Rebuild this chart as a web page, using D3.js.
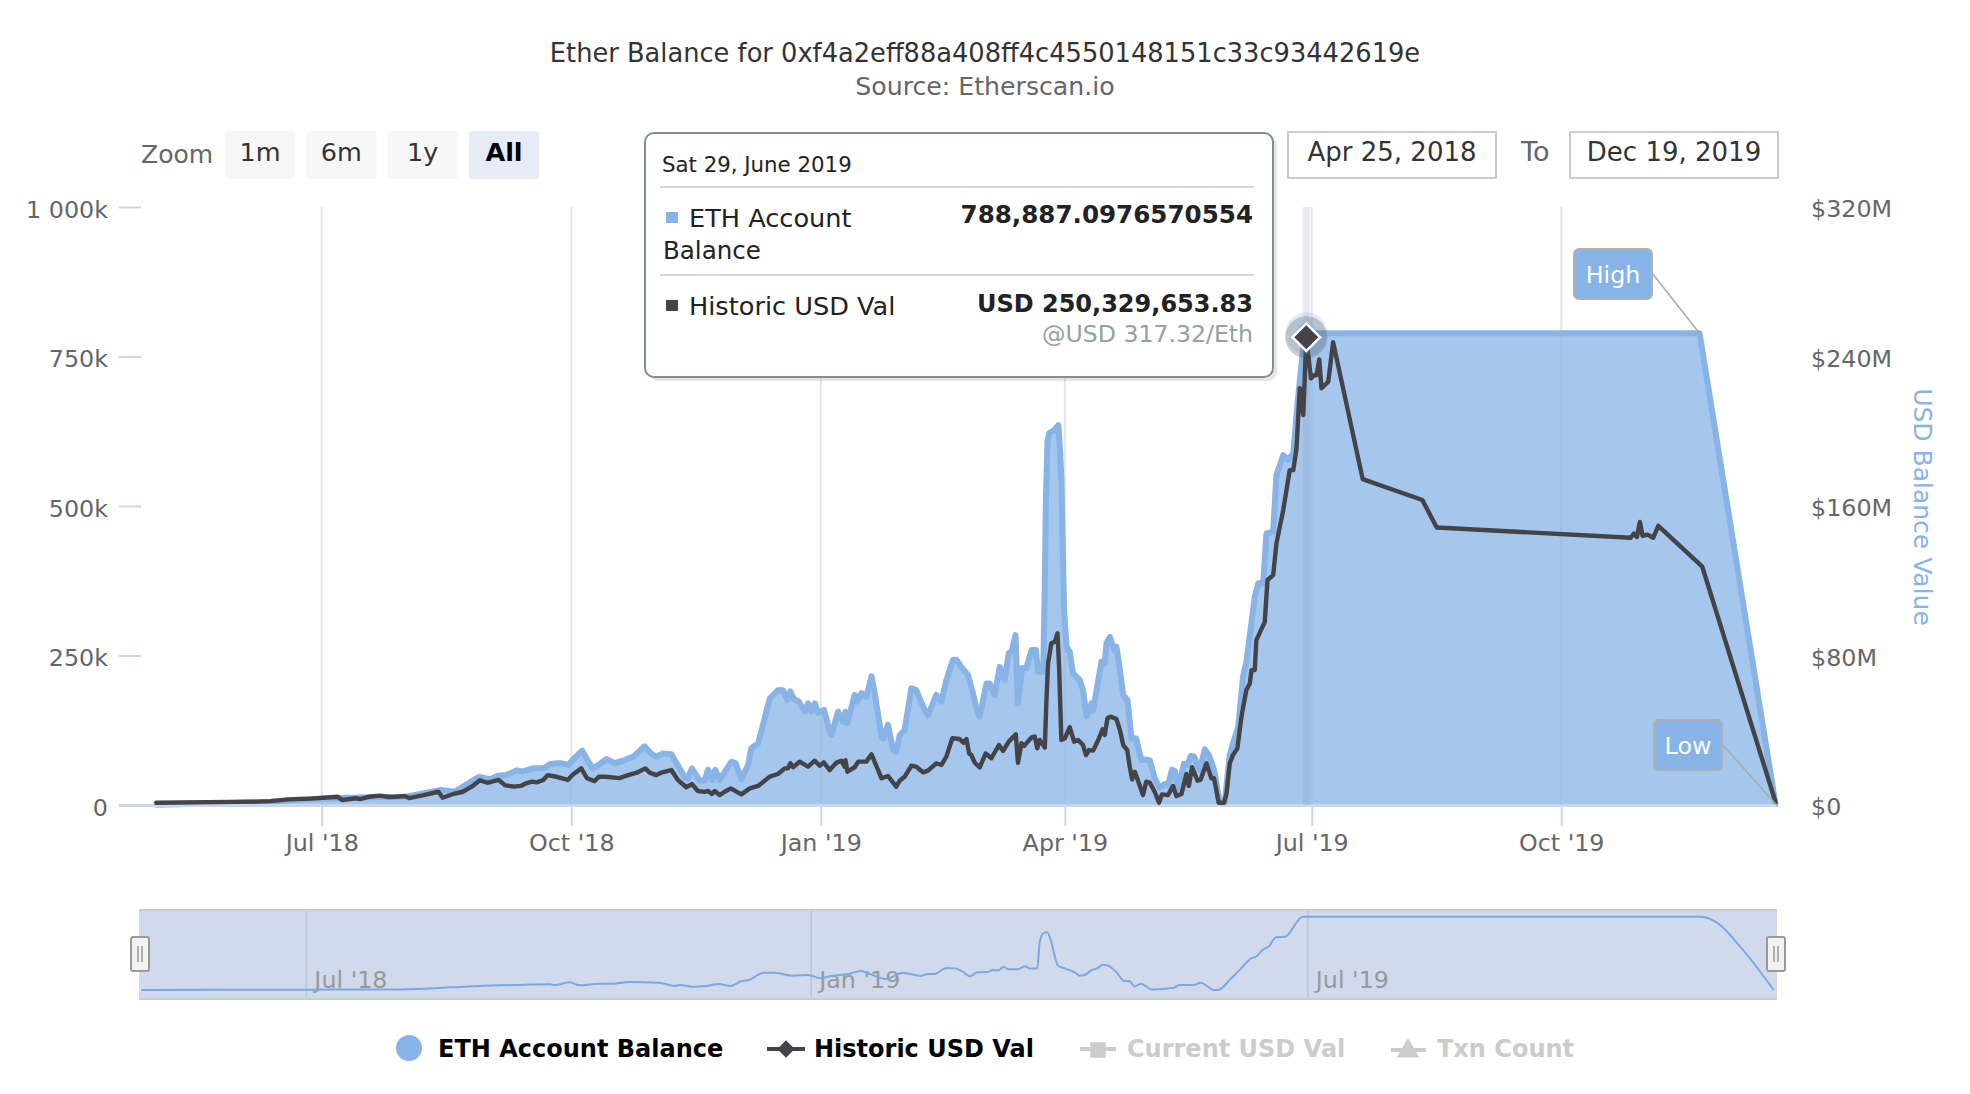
<!DOCTYPE html>
<html>
<head>
<meta charset="utf-8">
<title>Ether Balance</title>
<script src="https://d3js.org/d3.v7.min.js"></script>
<style>
  html, body { margin: 0; padding: 0; background: #fff; }
  text { font-family: "DejaVu Sans", sans-serif; }
</style>
</head>
<body>
<div id="chart"></div>
<script>
// day numbers are days after Apr 25 2018
var eth_days = [6,48,55,68,84,98,111,116,122,125,129,132,135,139,141,144.5,149,151,154,155,158,160,163,165,167,169,172,175,178,182,186,188.5,190.3,192.8,195.9,200.8,202,203.5,206.3,208.2,209.4,210.9,212.1,213.7,218,219.6,221.7,224.2,225.4,227.9,232.2,235.2,237.1,238.7,239.8,241.1,242.9,245.1,246.3,247.5,248.8,250,252.2,254.3,254.9,257.4,259.2,260.1,260.8,263.5,264.5,266,267.8,269.7,270.9,273.4,274,275.8,277.7,278.8,280.1,281.9,284.4,286.2,289.3,290.5,293.6,295.5,297.3,299.8,301,302.8,305.3,307.1,308.4,309.6,312.1,313.3,315.1,317,318.8,320.3,321.3,322.8,323.7,325.2,326.8,328.7,330.3,331.1,333,333.5,334,334.6,335.3,337.1,338.6,339.2,339.7,340.7,341.6,342.8,344,346.5,347.7,349,350.8,351.4,354.5,355.7,356.3,357.6,359.2,360,361.3,362.5,364.1,365.6,367.3,369.2,370.4,372.3,374.1,376,377.8,379,380.5,381.5,382.7,384.9,386.2,387.4,388.6,390.7,392.6,394,396,398.1,399.9,401.8,403,404.9,406.7,408,411,412.3,414.1,415.3,417.8,419,421.5,423.3,425.2,427,428.8,429.5,430,575,603];
var eth_values = [0.5,5,8,11,13,14,25,22,39,47,43,49,50,58,56,61,62,68,70,70,67,78,91,75,61,67,77,70,74,81,98,86,81,86,85,47,45,61,41,41,59,42,59,42,72,70,43,67,95,103,178,192,192,176,190,177,173,156,170,156,170,154,159,123,117,156,139,156,137,184,173,187,181,215,187,114,111,134,92,89,117,125,195,192,159,150,184,173,209,243,243,231,217,187,162,148,203,203,184,231,209,254,256,284,170,229,229,259,259,223,223,343,510,610,622,627,635,594,548,326,265,256,220,209,192,148,170,159,240,237,270,281,259,265,226,184,175,111,111,75,76,75,45,29,35,33,59,57,28,69,67,82,81,59,93,84,59,4,4,84,103,131,215,242,348,371,371,454,457,552,585,577,588,683,761,786,788.887,788.887,1.5];

var usd_days = [6,43.2,48.2,54.8,63,72.9,74.5,79.5,81.1,84.4,88.5,91.8,94.3,97.6,99.2,104.2,110,111.6,115.7,119,122.3,125.3,128.1,132.2,134.7,138,140.4,142,144.5,146.2,148.7,150.3,153.6,157.7,159.4,162.7,164.8,167.6,169.2,171.7,176.7,180,183.2,186.3,187.9,190.3,192.2,195.9,198.3,201.4,203.5,205.7,208.2,209.4,210.9,211.9,213.7,215.6,217.8,221.7,224.8,227.9,232.2,235.2,237.7,238.9,239.8,240.8,243.2,246.3,248.8,250.6,252.1,254.3,256.8,258.6,259.8,260.1,260.8,263.5,264.8,267.8,269.7,273.4,275.8,278.8,280.1,281.9,284.4,286.2,288.7,290.5,293.6,295.5,297.3,299.5,302.2,303.7,304.7,305.7,306.5,307.8,309.6,311.8,313.9,316.7,318.2,320.3,322.9,323.7,325,326,326.8,328.7,329.9,330.8,331.7,333.6,334.2,334.8,336,337.3,338.3,338.9,339.7,341,342.8,344.4,345.9,347.7,348.8,349.9,351.4,353.3,354.9,355.7,356.7,357.8,360,361.3,362.5,364,364.9,365.8,366.8,369.8,371,372.3,374.1,375.7,376.8,379,380.9,382.1,384,385.8,386.7,387.9,389.9,391,393.2,395,396,397.7,399.7,400.6,401.8,403,404.6,406.1,407.9,409.2,409.8,411,411.6,414.7,415.7,417.8,419,421.5,423.9,425.2,426.4,427.6,428.9,430,431.7,432.9,433.8,434.8,435.6,438.1,439.9,450.8,472.8,478.1,549.6,550.8,551.9,553,554,555.8,557.9,559.8,576,603];
var usd_values = [1.2,1.8,2.1,3,3.4,4.4,2.7,3.6,3.2,4.4,5,4.3,4.4,4.8,3.7,5.2,7.1,3.9,6,7.1,9.8,13.2,11.9,13.4,10.5,9.8,10.2,11.4,12.5,12.1,13.4,16,15.1,13.4,16,19.6,14.3,12.8,15.1,15.1,14.4,16,17.3,19.6,17.3,16,17.3,18.7,13.4,9.5,11.2,7.5,7,7.5,5.9,7.5,5.3,7.1,8.9,5.7,8.9,10.2,15.2,16.6,19.6,19.6,22.3,20.2,23.2,20.5,23.7,21,22.8,18.7,22.7,23.7,20.5,24,17.8,20.2,23.2,23.2,27.1,14.3,15.5,9.8,13,15.1,21,20.5,17.5,18.4,22.3,21.4,25.9,35.7,35.3,33.3,35.3,27.6,26.7,22.6,20.1,27.6,25,32.1,28.9,33.9,37.8,22.6,33,31.6,33,36.2,36.6,30.3,34.8,30.7,56.2,75.8,86.5,87.4,91.9,72.2,34.8,35.7,41.6,33.9,34.8,32.1,26.7,29.4,29.1,34.8,40.5,37.5,46.4,47.3,46,40.1,32.1,29.4,20.5,13.7,17.8,5.3,12.5,12,7.1,1.2,5.7,5.3,10.2,4.8,5.9,16.6,10.2,20.2,13,13.4,22.3,14.3,14.3,1.2,1.2,6.2,22.3,26.8,30.3,47.3,61.5,65.1,72.2,72.2,88.2,98,120.4,123,140,157.8,179.2,179.2,190.8,223,208.7,250.33,228.3,230,230,238.4,223,226.5,247.7,174.4,163.2,148.5,143,145.3,143.4,151.5,144,144.7,143,149.4,127.5,1.6];

var nav_days = [6.8,67,101.6,113.8,126,137.6,146.7,155.7,157.5,163,166.6,172,179.3,184.7,195.6,201,203.2,207.4,212.8,217.4,221.4,225.5,228.3,233.7,237.3,244.6,250,254.5,258.2,264.5,269,272.7,278.1,284.5,290.8,293.5,295.7,300.4,303.5,306.2,308.9,311.6,315.3,317.1,319.3,321.1,322.9,326.2,328.9,330.7,333.4,334.3,335.6,337,338.1,341,343.4,347,348.8,350.6,353.3,355.2,357.3,359.2,362.4,365.1,367,368.8,371.1,375.1,383.3,385.1,390.5,392.9,397.8,399.2,404.1,407.7,411.4,413.2,415.9,417.7,420.4,423.7,430.2,575.4,581.5,589.6,601.8];
var nav_values = [7,11,14,25,46,57,64,68,60,89,57,71,75,93,86,50,61,43,50,71,50,100,114,192,192,160,167,132,157,178,210,174,125,192,157,178,178,242,238,203,153,196,199,221,217,256,228,228,260,238,238,523,612,622,558,263,238,196,160,167,221,238,278,267,192,103,103,46,75,14,32,61,61,86,7,7,132,238,345,363,445,469,569,576,789,789,718,469,7];

var left_ticks = [0, 250, 500, 750, 1000];
var left_labels = ['0', '250k', '500k', '750k', '1 000k'];
var right_ticks = [0, 80, 160, 240, 320];
var x_ticks = ['2018-07-01', '2018-10-01', '2019-01-01', '2019-04-01', '2019-07-01', '2019-10-01'];
var nav_ticks = ['2018-07-01', '2019-01-01', '2019-07-01'];

var zoom_buttons = ['1m', '6m', '1y', 'All'];
var legend_names = ['ETH Account Balance', 'Historic USD Val', 'Current USD Val', 'Txn Count'];

var blue = '#87b3e7';
var dark = '#434348';
var axis_color = '#ccd6eb';
var label_color = '#666666';

var chart_width = 1970;
var chart_height = 1094;
var font_size = 23.8;

var svg = d3.select('#chart')
  .append('svg')
  .attr('width', chart_width)
  .attr('height', chart_height);

var start_date = new Date(Date.UTC(2018, 3, 25));
function day_to_date(d) {
  return new Date(start_date.getTime() + d * 86400000);
}

// scales
var x_scale = d3.scaleUtc()
  .domain([start_date, day_to_date(603)])
  .range([140, 1775.5]);
var y_eth = d3.scaleLinear().domain([0, 1000]).range([805, 207]);
var y_usd = d3.scaleLinear().domain([0, 320]).range([805, 207]);

var x_nav = d3.scaleUtc()
  .domain([day_to_date(6), day_to_date(603)])
  .range([139, 1777]);
var y_nav = d3.scaleLinear().domain([0, 789]).range([990.7, 916.7]);

// title
svg.append('text').text('Ether Balance for 0xf4a2eff88a408ff4c4550148151c33c93442619e')
  .attr('x', 985).attr('y', 62).attr('text-anchor', 'middle')
  .attr('font-size', 25.7).attr('fill', '#333');
svg.append('text').text('Source: Etherscan.io')
  .attr('x', 985).attr('y', 95).attr('text-anchor', 'middle')
  .attr('font-size', 25.2).attr('fill', label_color);

// grid lines
svg.selectAll('.grid')
  .data(x_ticks)
  .enter()
  .append('line')
  .attr('class', 'grid')
  .attr('x1', function(d) { return x_scale(new Date(d)); })
  .attr('x2', function(d) { return x_scale(new Date(d)); })
  .attr('y1', 207).attr('y2', 805)
  .attr('stroke', '#e6e6e6').attr('stroke-width', 2);

// x axis
var x_axis = d3.axisBottom(x_scale)
  .tickValues(x_ticks.map(function(d) { return new Date(d); }))
  .tickFormat(d3.utcFormat("%b '%y"))
  .tickSize(21)
  .tickPadding(8);
var x_g = svg.append('g').attr('transform', 'translate(0,805)').call(x_axis);
x_g.select('.domain').remove();
x_g.selectAll('line').attr('stroke', axis_color).attr('stroke-width', 2);
x_g.selectAll('text').attr('font-size', font_size).attr('fill', label_color)
  .attr('font-family', '"DejaVu Sans", sans-serif');

// left axis
var left_axis = d3.axisLeft(y_eth)
  .tickValues(left_ticks)
  .tickFormat(function(d, i) { return left_labels[i]; })
  .tickSize(22)
  .tickPadding(11);
var left_g = svg.append('g').attr('transform', 'translate(141,0)').call(left_axis);
left_g.select('.domain').remove();
left_g.selectAll('line').attr('stroke', axis_color).attr('stroke-width', 2);
left_g.selectAll('text').attr('font-size', font_size).attr('fill', label_color)
  .attr('font-family', '"DejaVu Sans", sans-serif').attr('dy', '0.42em');

// right axis
var right_axis = d3.axisRight(y_usd)
  .tickValues(right_ticks)
  .tickFormat(function(d) { return d === 0 ? '$0' : '$' + d + 'M'; })
  .tickSize(0)
  .tickPadding(0);
var right_g = svg.append('g').attr('transform', 'translate(1811,0)').call(right_axis);
right_g.select('.domain').remove();
right_g.selectAll('text').attr('font-size', font_size).attr('fill', label_color)
  .attr('font-family', '"DejaVu Sans", sans-serif').attr('dy', '0.4em');

svg.append('text').text('USD Balance Value')
  .attr('transform', 'translate(1914,507) rotate(90)')
  .attr('text-anchor', 'middle')
  .attr('font-size', 25).attr('fill', blue);

// eth area + line
var eth_points = eth_days.map(function(d, i) { return [day_to_date(d), eth_values[i]]; });
var usd_points = usd_days.map(function(d, i) { return [day_to_date(d), usd_values[i]]; });
var nav_points = nav_days.map(function(d, i) { return [day_to_date(d), nav_values[i]]; });

var eth_area = d3.area()
  .x(function(d) { return x_scale(d[0]); })
  .y0(y_eth(0))
  .y1(function(d) { return y_eth(d[1]); });
var eth_line = d3.line()
  .x(function(d) { return x_scale(d[0]); })
  .y(function(d) { return y_eth(d[1]); });
var usd_line = d3.line()
  .x(function(d) { return x_scale(d[0]); })
  .y(function(d) { return y_usd(d[1]); });

svg.append('path').datum(eth_points).attr('d', eth_area)
  .attr('fill', blue).attr('fill-opacity', 0.75);
svg.append('path').datum(eth_points).attr('d', eth_line)
  .attr('fill', 'none').attr('stroke', blue).attr('stroke-width', 6)
  .attr('stroke-linejoin', 'round').attr('stroke-linecap', 'round');

// baseline sits on top of the area
svg.append('line')
  .attr('x1', 119).attr('x2', 1776)
  .attr('y1', 805.5).attr('y2', 805.5)
  .attr('stroke', axis_color).attr('stroke-width', 3);

// crosshair
var hover_date = day_to_date(430);
svg.append('rect')
  .attr('x', x_scale(hover_date) - 3.5).attr('y', 207)
  .attr('width', 7).attr('height', 598)
  .attr('fill', '#7a8aa0').attr('fill-opacity', 0.17);

svg.append('path').datum(usd_points).attr('d', usd_line)
  .attr('fill', 'none').attr('stroke', dark).attr('stroke-width', 4.4)
  .attr('stroke-linejoin', 'round').attr('stroke-linecap', 'round');

// flags
var flags = svg.append('g');
flags.append('line')
  .attr('x1', 1652).attr('y1', 273)
  .attr('x2', x_scale(day_to_date(575))).attr('y2', y_eth(788.887))
  .attr('stroke', '#aaa').attr('stroke-width', 1.5);
flags.append('rect')
  .attr('x', 1574).attr('y', 249).attr('width', 78).attr('height', 50).attr('rx', 5)
  .attr('fill', blue).attr('stroke', '#b0b0b0').attr('stroke-width', 2);
flags.append('text').text('High')
  .attr('x', 1613).attr('y', 283).attr('text-anchor', 'middle')
  .attr('font-size', font_size).attr('fill', '#fff');
flags.append('line')
  .attr('x1', 1722).attr('y1', 744)
  .attr('x2', x_scale(day_to_date(603))).attr('y2', y_eth(1.5))
  .attr('stroke', '#aaa').attr('stroke-width', 1.5);
flags.append('rect')
  .attr('x', 1654).attr('y', 720).attr('width', 68).attr('height', 50).attr('rx', 5)
  .attr('fill', blue).attr('stroke', '#b0b0b0').attr('stroke-width', 2);
flags.append('text').text('Low')
  .attr('x', 1688).attr('y', 754).attr('text-anchor', 'middle')
  .attr('font-size', font_size).attr('fill', '#fff');

// hover markers
var hx = x_scale(hover_date);
svg.append('circle').attr('cx', hx).attr('cy', y_eth(788.887)).attr('r', 21)
  .attr('fill', blue).attr('fill-opacity', 0.25);
svg.append('circle').attr('cx', hx).attr('cy', y_usd(250.33)).attr('r', 21)
  .attr('fill', dark).attr('fill-opacity', 0.25);
svg.append('circle').attr('cx', hx).attr('cy', y_eth(788.887)).attr('r', 10)
  .attr('fill', blue);
svg.append('path')
  .attr('d', d3.symbol(d3.symbolSquare, 380))
  .attr('transform', 'translate(' + hx + ',' + y_usd(250.33) + ') rotate(45)')
  .attr('fill', dark).attr('stroke', '#fff').attr('stroke-width', 2.5);

// range selector
svg.append('text').text('Zoom')
  .attr('x', 141).attr('y', 163)
  .attr('font-size', 25).attr('fill', label_color);
var button_x = d3.scalePoint().domain(zoom_buttons).range([225, 469]);
var buttons = svg.selectAll('.zoom-button')
  .data(zoom_buttons)
  .enter()
  .append('g')
  .attr('class', 'zoom-button')
  .attr('transform', function(d) { return 'translate(' + button_x(d) + ',131)'; });
buttons.append('rect')
  .attr('width', 70).attr('height', 48).attr('rx', 3)
  .attr('fill', function(d) { return d === 'All' ? '#e6ebf5' : '#f7f7f7'; });
buttons.append('text').text(function(d) { return d; })
  .attr('x', 35).attr('y', 30).attr('text-anchor', 'middle')
  .attr('font-size', 25.5)
  .attr('font-weight', function(d) { return d === 'All' ? 'bold' : 'normal'; })
  .attr('fill', function(d) { return d === 'All' ? '#000' : '#333'; });

// date inputs
function date_box(x, w, label) {
  svg.append('rect')
    .attr('x', x).attr('y', 132).attr('width', w).attr('height', 46)
    .attr('fill', '#fff').attr('stroke', '#cccccc').attr('stroke-width', 2);
  svg.append('text').text(label)
    .attr('x', x + w / 2).attr('y', 161).attr('text-anchor', 'middle')
    .attr('font-size', 26).attr('fill', '#333');
}
date_box(1288, 208, 'Apr 25, 2018');
date_box(1570, 208, 'Dec 19, 2019');
svg.append('text').text('To')
  .attr('x', 1521).attr('y', 161)
  .attr('font-size', 27).attr('fill', label_color);

// navigator
svg.append('rect')
  .attr('x', 139).attr('y', 911).attr('width', 1638).attr('height', 88)
  .attr('fill', '#6685c2').attr('fill-opacity', 0.3);
svg.selectAll('.nav-grid')
  .data(nav_ticks)
  .enter()
  .append('line')
  .attr('class', 'nav-grid')
  .attr('x1', function(d) { return x_nav(new Date(d)); })
  .attr('x2', function(d) { return x_nav(new Date(d)); })
  .attr('y1', 911).attr('y2', 999)
  .attr('stroke', '#bcc3d4').attr('stroke-width', 1.5);
svg.selectAll('.nav-label')
  .data(nav_ticks)
  .enter()
  .append('text')
  .attr('class', 'nav-label')
  .text(function(d) { return d3.utcFormat("%b '%y")(new Date(d)); })
  .attr('x', function(d) { return x_nav(new Date(d)) + 8; })
  .attr('y', 988)
  .attr('font-size', font_size).attr('fill', '#999');
var nav_line = d3.line()
  .x(function(d) { return x_nav(d[0]); })
  .y(function(d) { return y_nav(d[1]); })
  .curve(d3.curveMonotoneX);
svg.append('path').datum(nav_points).attr('d', nav_line)
  .attr('fill', 'none').attr('stroke', '#7da8e0').attr('stroke-width', 2);
[910, 999].forEach(function(y) {
  svg.append('line').attr('x1', 139).attr('x2', 1777).attr('y1', y).attr('y2', y)
    .attr('stroke', '#cccccc').attr('stroke-width', 2);
});
[140, 1776].forEach(function(x) {
  svg.append('rect')
    .attr('x', x - 9).attr('y', 937).attr('width', 18).attr('height', 34).attr('rx', 2)
    .attr('fill', '#f2f2f2').attr('stroke', '#999').attr('stroke-width', 2);
  [-2, 2].forEach(function(o) {
    svg.append('line').attr('x1', x + o).attr('x2', x + o).attr('y1', 946).attr('y2', 962)
      .attr('stroke', '#999').attr('stroke-width', 1.5);
  });
});

// legend
var legend_x = [438, 814, 1127, 1437];
var legend_colors = ['#000', '#000', '#cccccc', '#cccccc'];
svg.selectAll('.legend-text')
  .data(legend_names)
  .enter()
  .append('text')
  .attr('class', 'legend-text')
  .text(function(d) { return d; })
  .attr('x', function(d, i) { return legend_x[i]; })
  .attr('y', 1057)
  .attr('font-size', 24).attr('font-weight', 'bold')
  .attr('fill', function(d, i) { return legend_colors[i]; });
svg.append('circle').attr('cx', 409).attr('cy', 1048).attr('r', 13).attr('fill', blue);
svg.append('line').attr('x1', 767).attr('x2', 805).attr('y1', 1049).attr('y2', 1049)
  .attr('stroke', dark).attr('stroke-width', 4);
svg.append('path').attr('d', d3.symbol(d3.symbolSquare, 150))
  .attr('transform', 'translate(786,1049) rotate(45)').attr('fill', dark);
svg.append('line').attr('x1', 1080).attr('x2', 1116).attr('y1', 1049).attr('y2', 1049)
  .attr('stroke', '#cccccc').attr('stroke-width', 4);
svg.append('path').attr('d', d3.symbol(d3.symbolSquare, 240))
  .attr('transform', 'translate(1098,1050)').attr('fill', '#cccccc');
svg.append('line').attr('x1', 1391).attr('x2', 1426).attr('y1', 1050).attr('y2', 1050)
  .attr('stroke', '#cccccc').attr('stroke-width', 4);
svg.append('path').attr('d', d3.symbol(d3.symbolTriangle, 220))
  .attr('transform', 'translate(1408,1051)').attr('fill', '#cccccc');

// tooltip
var tooltip = svg.append('g');
tooltip.append('rect')
  .attr('x', 649).attr('y', 136).attr('width', 628).attr('height', 245).attr('rx', 9)
  .attr('fill', '#000').attr('fill-opacity', 0.1);
tooltip.append('rect')
  .attr('x', 645).attr('y', 133).attr('width', 628).attr('height', 244).attr('rx', 9)
  .attr('fill', '#fff').attr('stroke', '#7f8f8f').attr('stroke-width', 2);
tooltip.append('text').text('Sat 29, June 2019')
  .attr('x', 662).attr('y', 172).attr('font-size', 21.3).attr('fill', '#222');
[187, 275].forEach(function(y) {
  tooltip.append('line').attr('x1', 660).attr('x2', 1254).attr('y1', y).attr('y2', y)
    .attr('stroke', '#d8d8dc').attr('stroke-width', 2);
});
tooltip.append('rect').attr('x', 666).attr('y', 212).attr('width', 12).attr('height', 11).attr('fill', blue);
tooltip.append('text').text('ETH Account')
  .attr('x', 689).attr('y', 227).attr('font-size', 25.6).attr('fill', '#222');
tooltip.append('text').text('Balance')
  .attr('x', 663).attr('y', 259).attr('font-size', 24.5).attr('fill', '#222');
tooltip.append('text').text('788,887.0976570554')
  .attr('x', 1253).attr('y', 223).attr('text-anchor', 'end')
  .attr('font-size', 24.6).attr('font-weight', 'bold').attr('fill', '#222');
tooltip.append('rect').attr('x', 666).attr('y', 300).attr('width', 12).attr('height', 11).attr('fill', dark);
tooltip.append('text').text('Historic USD Val')
  .attr('x', 689).attr('y', 315).attr('font-size', 25.6).attr('fill', '#222');
tooltip.append('text').text('USD 250,329,653.83')
  .attr('x', 1253).attr('y', 312).attr('text-anchor', 'end')
  .attr('font-size', 24).attr('font-weight', 'bold').attr('fill', '#222');
tooltip.append('text').text('@USD 317.32/Eth')
  .attr('x', 1253).attr('y', 342).attr('text-anchor', 'end')
  .attr('font-size', 23.6).attr('fill', '#95a0a0');
</script>
</body>
</html>
